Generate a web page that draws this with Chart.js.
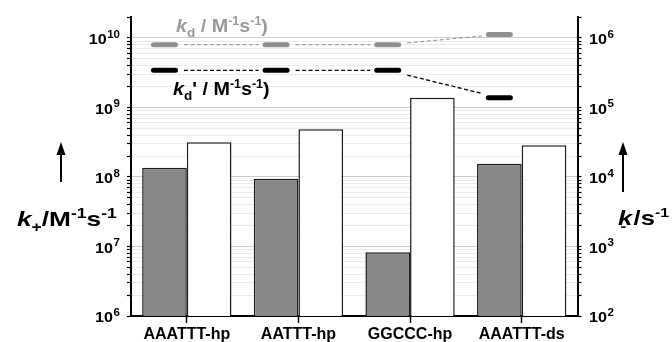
<!DOCTYPE html>
<html>
<head>
<meta charset="utf-8">
<script src="https://cdn.jsdelivr.net/npm/chart.js@4"></script>
<style>
  body { margin: 0; background: #fff; }
  #wrap { width: 672px; height: 342px; }
</style>
</head>
<body>
<div id="wrap"><canvas id="rateChart" width="672" height="342"></canvas></div>
<script>
// data
const categories = ['AAATTT-hp', 'AATTT-hp', 'GGCCC-hp', 'AAATTT-ds'];
const kPlus = [1.36e8, 9.4e7, 8.25e6, 1.55e8];      // M^-1 s^-1, left axis
const kMinus = [3.15e4, 4.85e4, 1.38e5, 2.85e4];    // s^-1, right axis
const kd = [8.0e9, 8.0e9, 8.0e9, 1.12e10];          // M^-1 s^-1, left axis
const kdPrime = [3.42e9, 3.42e9, 3.42e9, 1.38e9];   // M^-1 s^-1, left axis

const leftDecades = [1e6, 1e7, 1e8, 1e9, 1e10];
const rightDecades = [1e2, 1e3, 1e4, 1e5, 1e6];
const leftMax = 2e10;
const rightMax = 2e6;

const FONT = '"Liberation Sans", Arial, sans-serif';

// 1..9 x each decade, up to the axis max
function logTicks(decades, max) {
  const out = [];
  decades.forEach(d => {
    for (let k = 1; k <= 9; k++) {
      const v = k * d;
      if (v <= max) out.push({ value: v });
    }
  });
  if (out[out.length - 1].value !== max) out.push({ value: max });
  return out;
}

function runsWidth(ctx, runs, sx) {
  let w = 0;
  runs.forEach(r => {
    ctx.font = (r.italic ? 'italic ' : '') + 'bold ' + r.size + 'px ' + FONT;
    w += (r.dx || 0) + ctx.measureText(r.t).width;
  });
  return w * sx;
}

// text with sub/superscripts, stretched a little horizontally
function drawRuns(ctx, x, y, runs, sx, color) {
  ctx.save();
  ctx.translate(x, y);
  ctx.scale(sx, 1);
  ctx.fillStyle = color;
  ctx.textBaseline = 'alphabetic';
  ctx.textAlign = 'left';
  let cx = 0;
  runs.forEach(r => {
    cx += r.dx || 0;
    ctx.font = (r.italic ? 'italic ' : '') + 'bold ' + r.size + 'px ' + FONT;
    ctx.fillText(r.t, cx, r.dy || 0);
    cx += ctx.measureText(r.t).width;
  });
  ctx.restore();
}

// "10^n" labels at the decades of a log axis
function drawPowerLabels(ctx, scale, decades, side) {
  decades.forEach(v => {
    const y = scale.getPixelForValue(v);
    const runs = [
      { t: '10', size: 14 },
      { t: String(Math.round(Math.log10(v))), size: 10, dy: -6.5, dx: 0.5 }
    ];
    const w = runsWidth(ctx, runs, 1.15);
    const x = side === 'left' ? scale.right - 11 - w : scale.left + 11.5;
    drawRuns(ctx, x, y + 6.3, runs, 1.15, '#000');
  });
}

function drawArrow(ctx, x, yTip, yEnd) {
  ctx.save();
  ctx.strokeStyle = '#000';
  ctx.fillStyle = '#000';
  ctx.lineWidth = 2;
  ctx.beginPath();
  ctx.moveTo(x, yEnd);
  ctx.lineTo(x, yTip + 10);
  ctx.stroke();
  ctx.beginPath();
  ctx.moveTo(x, yTip);
  ctx.lineTo(x - 4.5, yTip + 13);
  ctx.lineTo(x + 4.5, yTip + 13);
  ctx.closePath();
  ctx.fill();
  ctx.restore();
}

// kd / kd' markers sit over the grey bars, joined by dashed lines
const kdMarks = {
  id: 'kdMarks',
  afterDatasetsDraw(chart) {
    const ctx = chart.ctx;
    const yScale = chart.scales.y;
    const bars = chart.getDatasetMeta(0).data;
    const half = 13.5;

    function drawSeries(vals, color, lw) {
      const pts = vals.map((v, i) => ({ x: bars[i].x, y: yScale.getPixelForValue(v) }));
      ctx.save();
      ctx.strokeStyle = color;
      ctx.lineWidth = lw;
      ctx.setLineDash([4, 2.5]);
      for (let i = 0; i < pts.length - 1; i++) {
        const a = pts[i], b = pts[i + 1];
        const at = x => a.y + (b.y - a.y) * (x - a.x) / (b.x - a.x);
        const x0 = a.x + half + 6, x1 = b.x - half - 4;
        ctx.beginPath();
        ctx.moveTo(x0, at(x0));
        ctx.lineTo(x1, at(x1));
        ctx.stroke();
      }
      ctx.setLineDash([]);
      ctx.lineWidth = 5;
      ctx.lineCap = 'round';
      pts.forEach(p => {
        ctx.beginPath();
        ctx.moveTo(p.x - half + 2.5, p.y);
        ctx.lineTo(p.x + half - 2.5, p.y);
        ctx.stroke();
      });
      ctx.restore();
    }

    drawSeries(kd, '#8f8f8f', 1);
    drawSeries(kdPrime, '#000', 1.3);
  },
  afterDraw(chart) {
    const ctx = chart.ctx;
    drawPowerLabels(ctx, chart.scales.y, leftDecades, 'left');
    drawPowerLabels(ctx, chart.scales.y2, rightDecades, 'right');

    // series labels
    drawRuns(ctx, 176, 32, [
      { t: 'k', size: 19, italic: true },
      { t: 'd', size: 13, dy: 5 },
      { t: ' / M', size: 19 },
      { t: '-1', size: 12, dy: -7 },
      { t: 's', size: 19 },
      { t: '-1', size: 12, dy: -7 },
      { t: ')', size: 19 }
    ], 1.04, '#9a9a9a');
    drawRuns(ctx, 173, 95, [
      { t: 'k', size: 19, italic: true },
      { t: 'd', size: 13, dy: 5 },
      { t: "' / M", size: 19 },
      { t: '-1', size: 12, dy: -7 },
      { t: 's', size: 19 },
      { t: '-1', size: 12, dy: -7 },
      { t: ')', size: 19 }
    ], 1.04, '#000');

    // axis titles with arrows
    drawArrow(ctx, 61, 142, 182);
    drawRuns(ctx, 17, 226, [
      { t: 'k', size: 21, italic: true },
      { t: '+', size: 14, dy: 6 },
      { t: '/M', size: 21 },
      { t: '-1', size: 14, dy: -8 },
      { t: 's', size: 21 },
      { t: '-1', size: 14, dy: -8 }
    ], 1.25, '#000');

    drawArrow(ctx, 623, 142, 192);
    drawRuns(ctx, 618, 225, [
      { t: 'k', size: 21, italic: true },
      { t: '-', size: 14, dy: 6, dx: -9.6 },
      { t: '/s', size: 21, dx: 6 },
      { t: '-1', size: 13, dy: -8 }
    ], 1.22, '#000');
  }
};

new Chart(document.getElementById('rateChart'), {
  type: 'bar',
  data: {
    labels: categories,
    datasets: [
      {
        label: 'k+',
        data: kPlus,
        yAxisID: 'y',
        backgroundColor: '#878787',
        borderColor: '#1a1a1a',
        borderWidth: 1.5,
        categoryPercentage: 0.8,
        barPercentage: 1.0
      },
      {
        label: 'k-',
        data: kMinus,
        yAxisID: 'y2',
        backgroundColor: '#ffffff',
        borderColor: '#1a1a1a',
        borderWidth: 1.5,
        categoryPercentage: 0.8,
        barPercentage: 1.0
      }
    ]
  },
  options: {
    responsive: false,
    animation: false,
    layout: { padding: { top: 17, left: 0, right: 0, bottom: 0 } },
    plugins: {
      legend: { display: false },
      tooltip: { enabled: false }
    },
    scales: {
      x: {
        offset: true,
        grid: { offset: false, drawOnChartArea: false, drawTicks: true, tickLength: 7, tickColor: '#000', tickWidth: 1.5 },
        border: { color: '#000', width: 2 },
        ticks: { color: '#000', font: { family: FONT, size: 16, weight: 'bold' }, padding: 2, autoSkip: false, maxRotation: 0 },
        afterFit: s => { s.height = 26; }
      },
      y: {
        type: 'logarithmic',
        position: 'left',
        min: leftDecades[0],
        max: leftMax,
        grid: {
          color: c => leftDecades.includes(c.tick.value) ? '#cdcdcd' : (c.tick.value === leftMax ? 'rgba(0,0,0,0)' : '#ebebeb'),
          lineWidth: 1,
          tickLength: 4,
          tickColor: '#000',
          tickWidth: 1.2
        },
        border: { color: '#000', width: 2 },
        ticks: { display: false, autoSkip: false },
        afterBuildTicks: s => { s.ticks = logTicks(leftDecades, leftMax); },
        afterFit: s => { s.width = 131; }
      },
      y2: {
        type: 'logarithmic',
        position: 'right',
        min: rightDecades[0],
        max: rightMax,
        grid: { drawOnChartArea: false, tickLength: 4, tickColor: '#000', tickWidth: 1.2 },
        border: { color: '#000', width: 2 },
        ticks: { display: false, autoSkip: false },
        afterBuildTicks: s => { s.ticks = logTicks(rightDecades, rightMax); },
        afterFit: s => { s.width = 94.5; }
      }
    }
  },
  plugins: [kdMarks]
});
</script>
</body>
</html>
